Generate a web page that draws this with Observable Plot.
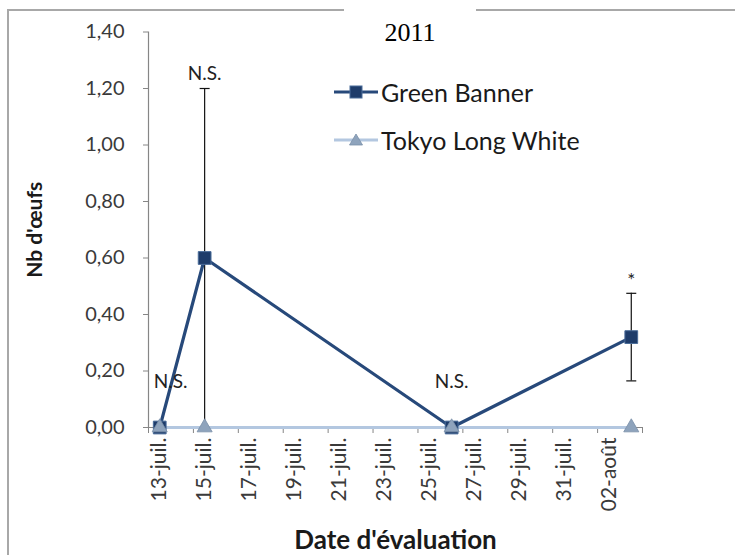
<!DOCTYPE html>
<html><head><meta charset="utf-8">
<script src="https://cdn.jsdelivr.net/npm/d3@7"></script>
<script src="https://cdn.jsdelivr.net/npm/@observablehq/plot@0.6"></script>
<style>
html,body{margin:0;padding:0;background:#fff}
body{width:735px;height:555px;overflow:hidden;position:relative;font-family:Lato,sans-serif}
#frame{position:absolute;left:7px;top:9px;width:800px;height:600px;border:2px solid #a8a8a8;border-right:none;border-bottom:none;box-sizing:border-box}
#chart{position:absolute;left:0;top:0}
#title{position:absolute;left:344px;top:0;width:132px;height:46px;background:#fff;text-align:center;font-family:"Liberation Serif",serif;font-size:26px;line-height:26px;padding-top:20px;box-sizing:border-box;color:#000}
.leg{position:absolute;left:333px;height:30px;display:flex;align-items:center;font-family:Lato,sans-serif;font-size:25px;color:#1a1a1a}
.leg svg{margin-right:2px}
</style>
</head><body>
<div id="frame"></div>
<div id="chart"></div>
<div id="title">2011</div>
<div class="leg" style="top:77px"><svg width="46" height="20"><line x1="1" y1="10" x2="45" y2="10" stroke="#27497a" stroke-width="3"/><rect x="17" y="4" width="12" height="12" fill="#1e3c6a" stroke="#4a6c99" stroke-width="1"/></svg><span>Green Banner</span></div>
<div class="leg" style="top:125px"><svg width="46" height="20"><line x1="1" y1="10" x2="45" y2="10" stroke="#b3c7e0" stroke-width="3"/><path d="M23,4 L29.5,15 L16.5,15 Z" fill="#8ea3bc" stroke="#7a8fa8" stroke-width="0.8"/></svg><span>Tokyo Long White</span></div>
<script>
// ---- data ----
const dates = ["2011-07-13", "2011-07-15", "2011-07-26", "2011-08-03"];
const greenBanner = [0, 0.60, 0, 0.32];
const greenBannerErr = [0, 0.60, 0, 0.155];
const tokyoLongWhite = [0, 0, 0, 0];
const signifLabels = ["N.S.", "N.S.", "N.S.", "*"];
const signifY = [0.16, 1.25, 0.16, 0.52];
const xTickDates = ["2011-07-13", "2011-07-15", "2011-07-17", "2011-07-19", "2011-07-21", "2011-07-23",
  "2011-07-25", "2011-07-27", "2011-07-29", "2011-07-31", "2011-08-02"];
const xTickLabels = ["13-juil.", "15-juil.", "17-juil.", "19-juil.", "21-juil.", "23-juil.",
  "25-juil.", "27-juil.", "29-juil.", "31-juil.", "02-août"];
const yTicks = [0, 0.2, 0.4, 0.6, 0.8, 1.0, 1.2, 1.4];
const seriesNames = ["Green Banner", "Tokyo Long White"];

// ---- build ----
const parse = d3.utcParse("%Y-%m-%d");
const gb = dates.map((d, i) => ({date: parse(d), v: greenBanner[i], e: greenBannerErr[i], lab: signifLabels[i], ly: signifY[i]}));
const tw = dates.map((d, i) => ({date: parse(d), v: tokyoLongWhite[i]}));
const tickDates = xTickDates.map(parse);
const xLabels = tickDates.map((d, i) => ({date: d, label: xTickLabels[i]}));
const yLabels = yTicks.map(v => ({v, label: v.toFixed(2).replace(".", ",")}));
// each day is a band; ticks sit on band boundaries (half a day before each label)
const xStart = d3.utcHour.offset(tickDates[0], -12);
const xEnd = d3.utcHour.offset(d3.max(gb, d => d.date), 12);
const boundaries = tickDates.map(d => d3.utcHour.offset(d, -12)).concat([xEnd]);
const errs = gb.filter(d => d.e > 0);

const capSymbol = {draw(ctx) { ctx.moveTo(-5, 0); ctx.lineTo(5, 0); }};

const chart = Plot.plot({
  width: 735, height: 555,
  marginLeft: 148, marginRight: 93, marginTop: 31.5, marginBottom: 128,
  style: {fontFamily: "Lato, sans-serif", background: "transparent", overflow: "visible"},
  x: {type: "utc", domain: [xStart, xEnd], axis: null},
  y: {domain: [0, 1.4], axis: null},
  marks: [
    Plot.ruleX([xStart], {stroke: "#868686", strokeWidth: 1.2}),
    Plot.ruleY([0], {stroke: "#868686"}),
    Plot.axisY({ticks: yTicks, tickSize: 5, tickFormat: () => "", label: null, stroke: "#868686"}),
    Plot.axisX({ticks: boundaries, tickSize: 6, tickFormat: () => "", label: null, stroke: "#868686"}),
    Plot.text(yLabels, {y: "v", text: "label", frameAnchor: "left", dx: -24, textAnchor: "end", lineAnchor: "middle",
      fontSize: 20, fill: "#3a3a3a"}),
    Plot.text(xLabels, {x: "date", text: "label", frameAnchor: "bottom", dy: 10, rotate: -90, textAnchor: "end",
      lineAnchor: "middle", fontSize: 21, fill: "#3a3a3a"}),
    Plot.ruleX(errs, {x: "date", y1: d => d.v - d.e, y2: d => d.v + d.e, stroke: "#111", strokeWidth: 1.2}),
    Plot.dot(errs, {x: "date", y: d => d.v + d.e, symbol: capSymbol, r: 5, stroke: "#111", strokeWidth: 1.2}),
    Plot.dot(errs, {x: "date", y: d => d.v - d.e, symbol: capSymbol, r: 5, stroke: "#111", strokeWidth: 1.2}),
    Plot.line(gb, {x: "date", y: "v", stroke: "#27497a", strokeWidth: 3.2}),
    Plot.line(tw, {x: "date", y: "v", stroke: "#b3c7e0", strokeWidth: 3.2}),
    Plot.dot(gb, {x: "date", y: "v", symbol: "square", r: 7.2, fill: "#1e3c6a", stroke: "#4a6c99", strokeWidth: 1}),
    Plot.dot(tw, {x: "date", y: "v", symbol: "triangle", r: 5.6, fill: "#8ea3bc", stroke: "#7a8fa8", strokeWidth: 0.8}),
    Plot.text(gb.slice(0, 1), {x: "date", y: "ly", text: "lab", fontSize: 19, fill: "#222", textAnchor: "start", dx: -6}),
    Plot.text(gb.slice(1), {x: "date", y: "ly", text: "lab", fontSize: 19, fill: "#222"}),
    Plot.text(["Nb d'œufs"], {frameAnchor: "left", dx: -113, rotate: -90, textAnchor: "middle", lineAnchor: "middle",
      fontSize: 21, fontWeight: "bold", fill: "#1a1a1a"}),
    Plot.text(["Date d'évaluation"], {frameAnchor: "bottom", dy: 113, textAnchor: "middle", lineAnchor: "middle",
      fontSize: 26, fontWeight: "bold", fill: "#1a1a1a"})
  ]
});
document.getElementById("chart").appendChild(chart);
</script>
</body></html>
